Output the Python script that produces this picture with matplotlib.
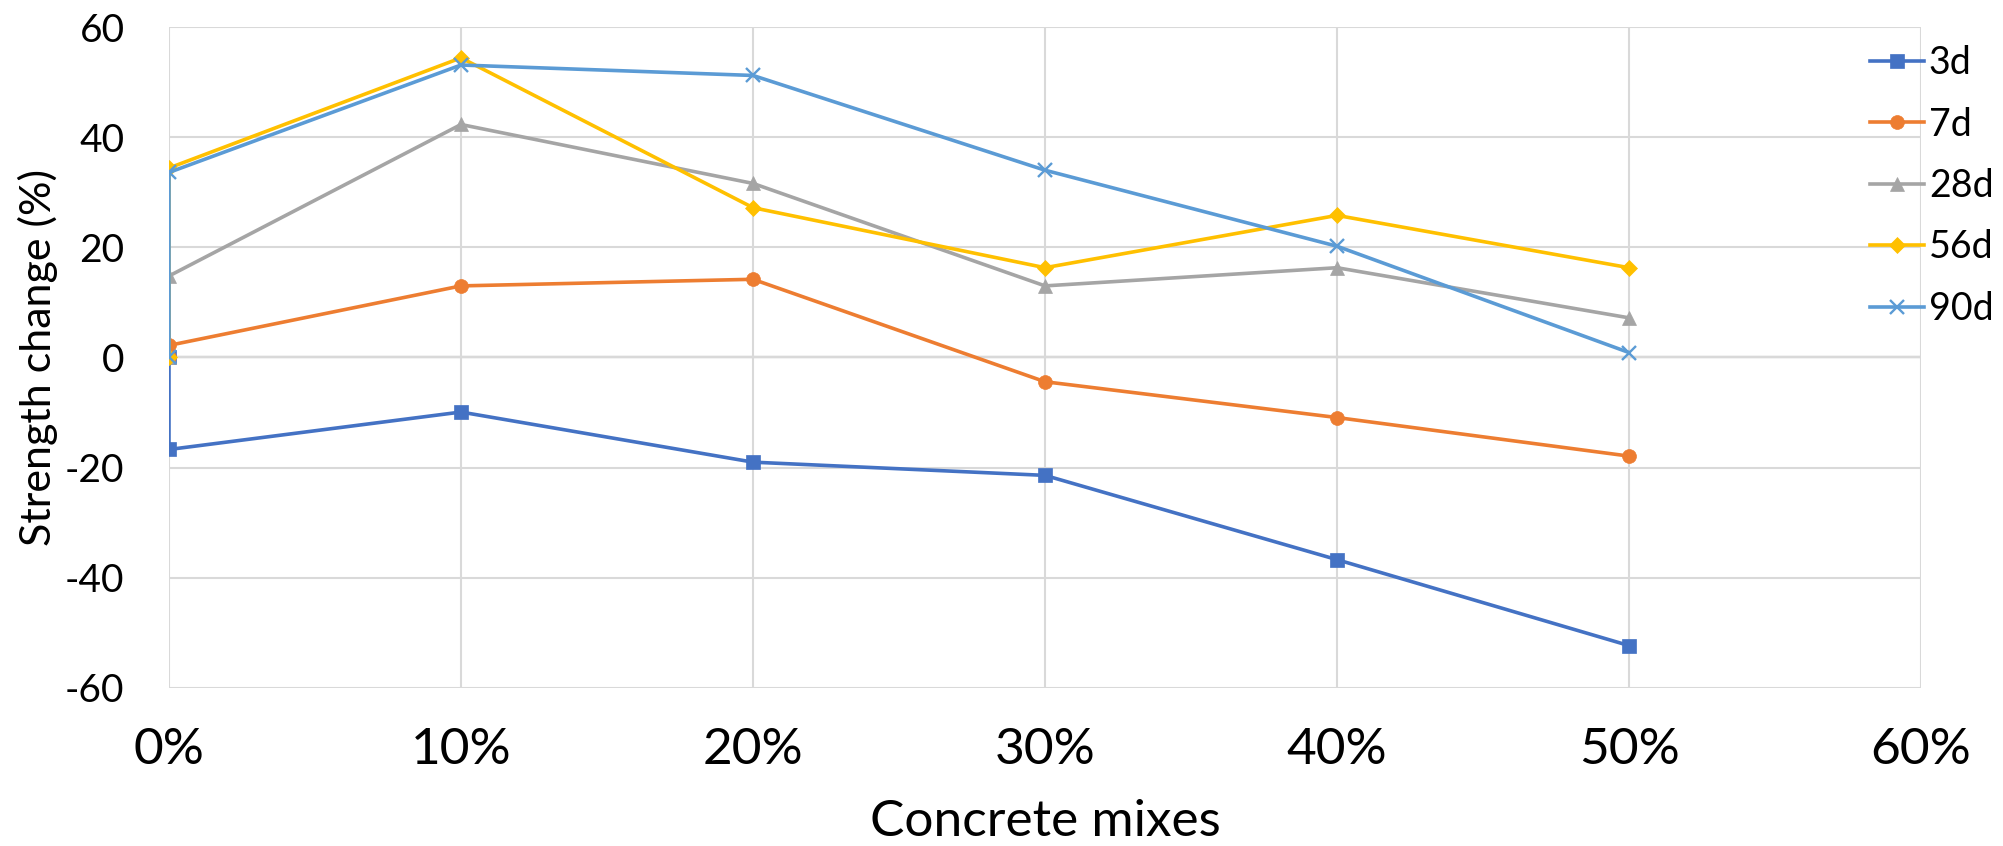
import numpy as np
import matplotlib
matplotlib.use("Agg")
import matplotlib.pyplot as plt

plt.rcParams['font.family'] = ['Lato', 'DejaVu Sans']
plt.rcParams['axes.unicode_minus'] = False

# Concrete mix (replacement %) - every series starts from the origin
mixes = [0, 0, 10, 20, 30, 40, 50]

# Strength change (%) for each curing age
s_3d = [0, -16.7, -9.9, -19.0, -21.4, -36.7, -52.3]
s_7d = [0, 2.2, 13.0, 14.2, -4.4, -10.9, -17.9]
s_28d = [0, 14.8, 42.3, 31.6, 13.0, 16.3, 7.2]
s_56d = [0, 34.4, 54.4, 27.2, 16.3, 25.8, 16.3]
s_90d = [0, 33.6, 53.1, 51.2, 34.0, 20.2, 0.9]

labels = ["3d", "7d", "28d", "56d", "90d"]
colors = ["#4472C4", "#ED7D31", "#A5A5A5", "#FFC000", "#5B9BD5"]
markers = ["s", "o", "^", "D", "x"]
msizes = [9.5, 10, 10, 8, 10]

x_ticks = [0, 10, 20, 30, 40, 50, 60]
x_labels = ["0%", "10%", "20%", "30%", "40%", "50%", "60%"]
y_ticks = [-60, -40, -20, 0, 20, 40, 60]

fig = plt.figure(figsize=(20.03, 8.46), dpi=100)
ax = fig.add_axes([169 / 2003, 1 - 688 / 846, (1921 - 169) / 2003, (688 - 27) / 846])

# Light grid on both axes, no frame (Excel style)
ax.grid(True, color="#D9D9D9", linewidth=1.5, zorder=0)
for s in ax.spines.values():
    s.set_visible(False)
ax.axhline(0, color="black", linewidth=1.5, zorder=1)

for ys, lab, c, m, ms in zip([s_3d, s_7d, s_28d, s_56d, s_90d], labels, colors, markers, msizes):
    ax.plot(mixes, ys, color=c, marker=m, markersize=ms, linewidth=2.6,
            markeredgewidth=1.7 if m == "x" else 0.5, label=lab, zorder=3)

ax.set_xlim(0, 60)
ax.set_ylim(-60, 60)
ax.set_xticks(x_ticks)
ax.set_xticklabels(x_labels)
ax.set_yticks(y_ticks)
ax.tick_params(axis="both", length=0)
ax.tick_params(axis="y", labelsize=28, pad=32)
ax.tick_params(axis="x", labelsize=37, pad=28)

ax.set_xlabel("Concrete mixes", fontsize=37, labelpad=19)
ax.set_ylabel("Strength change (%)", fontsize=31, labelpad=5)

leg = ax.legend(loc="upper left", bbox_to_anchor=(1870 / 2003, 1 - 45 / 846),
                bbox_transform=fig.transFigure, frameon=False, fontsize=27,
                handlelength=1.45, handletextpad=0.12, labelspacing=0.68,
                borderpad=0, borderaxespad=0)

fig.savefig("out.png", dpi=100)
